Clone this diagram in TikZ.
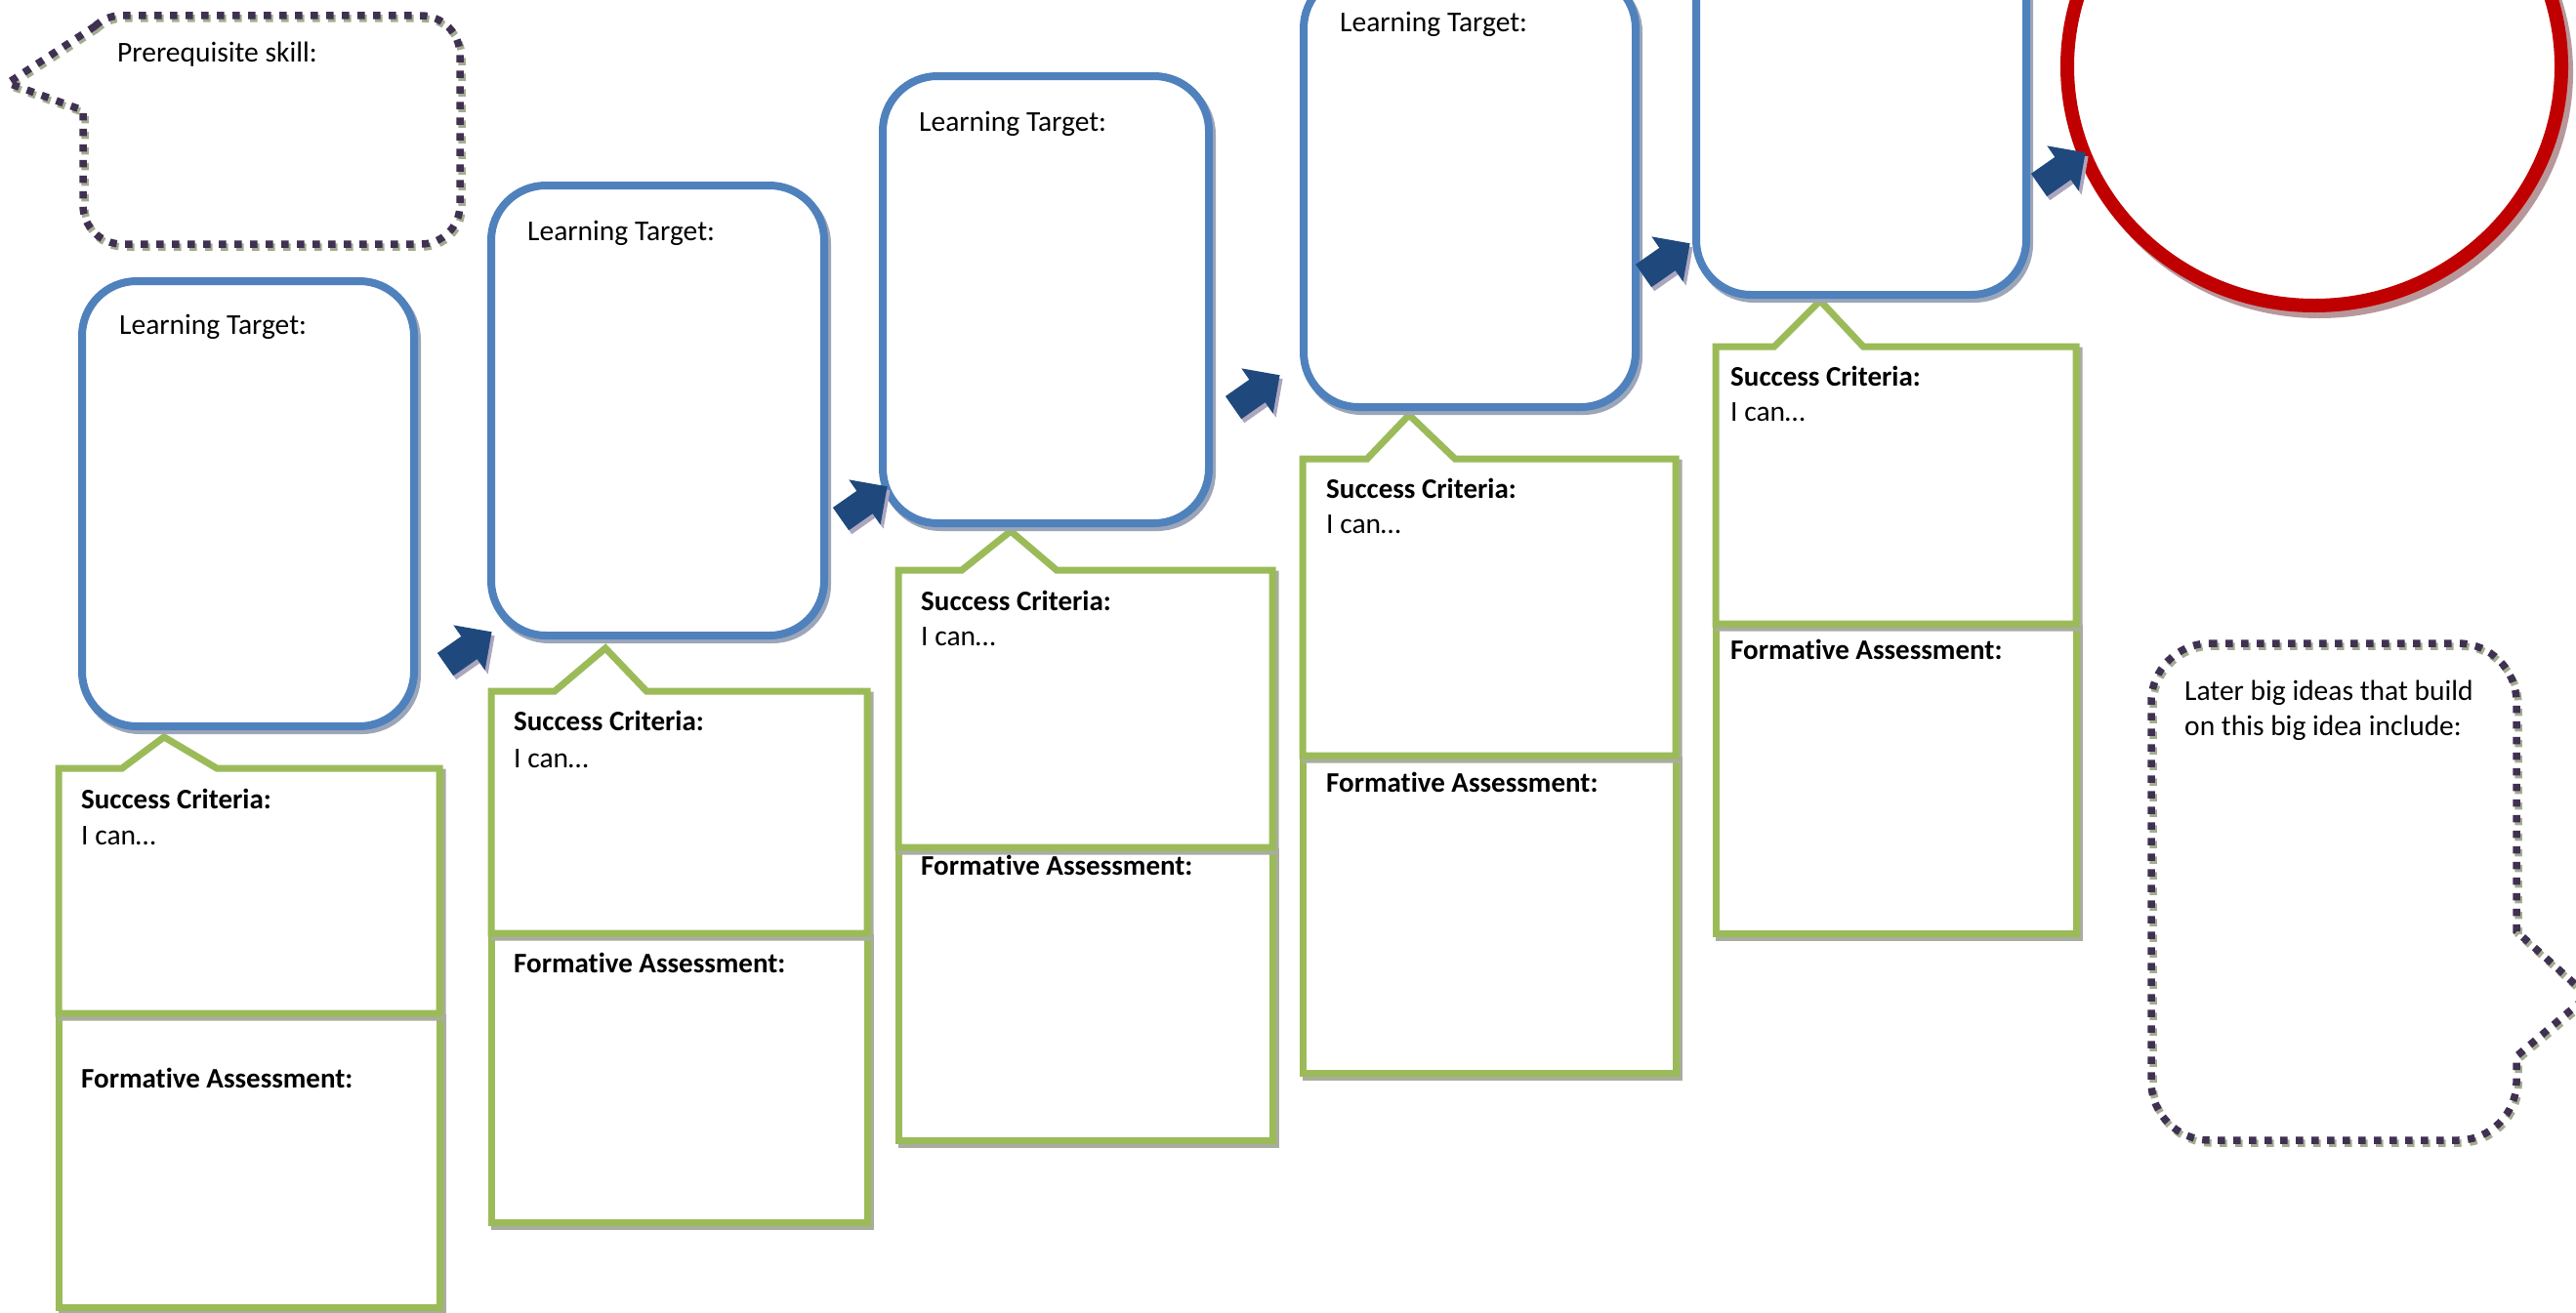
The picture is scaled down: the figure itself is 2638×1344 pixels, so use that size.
\documentclass[tikz,border=0pt]{standalone}
\usepackage{fontspec}
\setmainfont[Ligatures={NoCommon}]{Carlito}
\usetikzlibrary{shapes.geometric,shapes.arrows}
\definecolor{blueline}{HTML}{4F81BD}
\definecolor{blueshadow}{HTML}{9CA6B9}
\definecolor{greenline}{HTML}{9BBB59}
\definecolor{greenshadow}{HTML}{A9AD9F}
\definecolor{redline}{HTML}{C00000}
\definecolor{redshadow}{HTML}{B8979B}
\definecolor{arrowfill}{HTML}{1F497D}
\definecolor{arrowshadow}{HTML}{ABA5BE}
\definecolor{dotline}{HTML}{3F3151}
\definecolor{dotshadow}{HTML}{A3AC90}
\newcommand\mkLT[5]{%
  \node[ltshadow,minimum width=#4pt,minimum height=#5pt] (#1s) at ({#2+3},{#3+4}) {};
  \node[ltbox,minimum width=#4pt,minimum height=#5pt] (#1) at (#2,#3) {};}
\newcommand\mkFA[5]{%
  \node[fashadow,minimum width=#4pt,minimum height=#5pt] (#1s) at ({#2+3},{#3+4}) {};
  \node[fabox,minimum width=#4pt,minimum height=#5pt] (#1) at (#2,#3) {};}
\newcommand\mkArr[3]{%
  \node[blockarr,fill=arrowshadow] (#1s) at ({#2+3},{#3+4}) {};
  \node[blockarr] (#1) at (#2,#3) {};}
\begin{document}
\begin{tikzpicture}[x=1pt,y=-1pt,
  txt/.style={inner sep=0pt,font=\fontsize{29.5}{35}\selectfont,anchor=base west},
  btxt/.style={txt,font=\fontsize{29}{35}\selectfont\bfseries},
  ltbox/.style={rectangle,rounded corners=56pt,draw=blueline,fill=white,line width=8pt,inner sep=0pt},
  ltshadow/.style={rectangle,rounded corners=56pt,draw=blueshadow,fill=blueshadow,line width=8pt,inner sep=0pt},
  fabox/.style={rectangle,draw=greenline,fill=white,line width=7pt,inner sep=0pt},
  fashadow/.style={rectangle,draw=greenshadow,fill=greenshadow,line width=7pt,inner sep=0pt},
  scline/.style={draw=greenline,fill=white,line width=7pt},
  scshadow/.style={draw=greenshadow,fill=greenshadow,line width=7pt,shift={(3,4)}},
  blockarr/.style={shape=single arrow,fill=arrowfill,rotate=35,inner xsep=0pt,inner ysep=14pt,
    minimum height=58pt,single arrow head extend=14pt,single arrow tip angle=90},
  dotted callout/.style={draw=dotline,line width=7.5pt,dash pattern=on 7.5pt off 8.5pt},
  dotted shadow/.style={draw=dotshadow,line width=7.5pt,dash pattern=on 7.5pt off 8.5pt,shift={(2,3)}},
]
\useasboundingbox (0,0) rectangle (2638,1344);
\clip (0,0) rectangle (2638,1344);

% ---------- prerequisite callout ----------
\foreach \sty in {dotted shadow,dotted callout}{
\draw[\sty] (97,27) arc[start angle=226,end angle=270,radius=40] -- (431,16)
  arc[start angle=270,end angle=360,radius=40] -- (471,210)
  arc[start angle=0,end angle=90,radius=40] -- (125,250)
  arc[start angle=90,end angle=180,radius=40] -- (85,113) -- (8,85) -- cycle;
}
\node[txt] (pre) at (120,63) {Prerequisite skill:};

% ---------- later big ideas callout ----------
\foreach \sty in {dotted shadow,dotted callout}{
\draw[\sty] (2263,659) -- (2517,659)
  arc[start angle=270,end angle=360,radius=60] -- (2577,954) -- (2650,1020) -- (2577,1082) -- (2577,1108)
  arc[start angle=0,end angle=90,radius=60] -- (2263,1168)
  arc[start angle=90,end angle=180,radius=60] -- (2203,719)
  arc[start angle=180,end angle=270,radius=60] -- cycle;
}
\node[txt] (later1) at (2237,717) {Later big ideas that build};
\node[txt] (later2) at (2237,753) {on this big idea include:};

% ---------- green success / assessment boxes ----------
% box 1
\mkFA{fa1}{255}{1188.5}{390}{301}
\draw[scshadow] (60,787) -- (125,787) -- (168,755) -- (222,787) -- (450,787) -- (450,1038) -- (60,1038) -- cycle;
\draw[scline] (60,787) -- (125,787) -- (168,755) -- (222,787) -- (450,787) -- (450,1038) -- (60,1038) -- cycle;
% box 2
\mkFA{fa2}{695.5}{1104}{385}{296}
\draw[scshadow] (503,708) -- (568,708) -- (620,664) -- (662,708) -- (888,708) -- (888,956) -- (503,956) -- cycle;
\draw[scline] (503,708) -- (568,708) -- (620,664) -- (662,708) -- (888,708) -- (888,956) -- (503,956) -- cycle;
% box 3
\mkFA{fa3}{1111.5}{1018}{383}{300}
\draw[scshadow] (920,584) -- (985,584) -- (1035,544) -- (1082,584) -- (1303,584) -- (1303,868) -- (920,868) -- cycle;
\draw[scline] (920,584) -- (985,584) -- (1035,544) -- (1082,584) -- (1303,584) -- (1303,868) -- (920,868) -- cycle;
% box 4
\mkFA{fa4}{1525}{936.5}{382}{325}
\draw[scshadow] (1334,470) -- (1400,470) -- (1443,425) -- (1490,470) -- (1716,470) -- (1716,774) -- (1334,774) -- cycle;
\draw[scline] (1334,470) -- (1400,470) -- (1443,425) -- (1490,470) -- (1716,470) -- (1716,774) -- (1334,774) -- cycle;
% box 5
\mkFA{fa5}{1941.5}{797.5}{369}{317}
\draw[scshadow] (1757,355) -- (1817,355) -- (1864,308) -- (1908,355) -- (2126,355) -- (2126,639) -- (1757,639) -- cycle;
\draw[scline] (1757,355) -- (1817,355) -- (1864,308) -- (1908,355) -- (2126,355) -- (2126,639) -- (1757,639) -- cycle;

% ---------- learning target boxes ----------
\mkLT{lt1}{254}{516}{340}{456}
\mkLT{lt2}{673.5}{420.5}{341}{461}
\mkLT{lt3}{1071}{307}{334}{458}
\mkLT{lt4}{1505}{195}{340}{444}
\mkLT{lt5}{1906}{73}{338}{458}

\node[txt] (lt1t) at (122,342) {Learning Target:};
\node[txt] (lt2t) at (540,246) {Learning Target:};
\node[txt] (lt3t) at (941,134) {Learning Target:};
\node[txt] (lt4t) at (1372,32) {Learning Target:};

% ---------- texts in green boxes ----------
\node[btxt] (sc1) at (83,828) {Success Criteria:};
\node[txt] (ic1) at (83,865) {I can…};
\node[btxt] (fat1) at (83,1114) {Formative Assessment:};
\node[btxt] (sc2) at (526,748) {Success Criteria:};
\node[txt] (ic2) at (526,786) {I can…};
\node[btxt] (fat2) at (526,996) {Formative Assessment:};
\node[btxt] (sc3) at (943,625) {Success Criteria:};
\node[txt] (ic3) at (943,661) {I can…};
\node[btxt] (fat3) at (943,896) {Formative Assessment:};
\node[btxt] (sc4) at (1358,510) {Success Criteria:};
\node[txt] (ic4) at (1358,546) {I can…};
\node[btxt] (fat4) at (1358,811) {Formative Assessment:};
\node[btxt] (sc5) at (1772,395) {Success Criteria:};
\node[txt] (ic5) at (1772,431) {I can…};
\node[btxt] (fat5) at (1772,675) {Formative Assessment:};

% ---------- big idea circle ----------
\node[ellipse,draw=redshadow,fill=redshadow,line width=14pt,minimum width=506pt,minimum height=490pt,inner sep=0pt] (goals) at (2375,74) {};
\node[ellipse,draw=redline,fill=white,line width=14pt,minimum width=506pt,minimum height=490pt,inner sep=0pt] (goal) at (2370,68) {};

% ---------- block arrows ----------
\mkArr{arr1}{474}{668}
\mkArr{arr2}{879}{519}
\mkArr{arr3}{1281}{405}
\mkArr{arr4}{1701}{270}
\mkArr{arr5}{2106}{177}
\end{tikzpicture}
\end{document}
